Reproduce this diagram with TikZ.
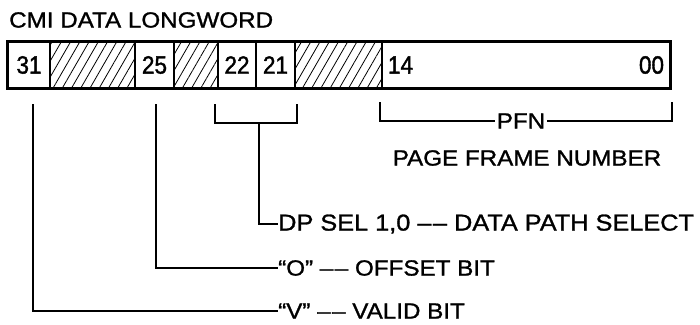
\documentclass[tikz,border=0pt]{standalone}
\usepackage{fontspec}
\setmainfont{Liberation Sans}[FakeStretch=1.1, FakeBold=1.2]
\newfontfamily\digitfont{Liberation Sans}[FakeStretch=0.9, FakeBold=1.5]
\usetikzlibrary{patterns.meta}
\usetikzlibrary{positioning}
\usetikzlibrary{calc}

\newcommand{\ddash}{\textendash\kern1.5pt\textendash}

\tikzset{
  cell/.style={draw, line width=1.6pt, minimum height=45pt, inner sep=0pt,
    font=\digitfont\fontsize{25}{28}\selectfont},
  hatch/.style={cell, pattern={Lines[angle=60,distance=8pt,line width=0.8pt]}},
  lbl/.style={inner sep=0pt, anchor=west, font=\fontsize{22}{24}\selectfont},
  conn/.style={line width=2.2pt},
}

\begin{document}
\begin{tikzpicture}[x=1pt,y=-1pt]
\useasboundingbox (0,0) rectangle (700,324);
\node[lbl, font=\fontsize{22}{24}\selectfont] (title) at (9,20) {CMI DATA LONGWORD};

% register fields
\node[cell, minimum width=42pt] (c31) at (29,65) {31};
\node[hatch, minimum width=85pt] (h1) at (92.5,65) {};
\node[cell, minimum width=39pt] (c25) at (154.5,65) {25};
\node[hatch, minimum width=44pt] (h2) at (196,65) {};
\node[cell, minimum width=38pt] (c22) at (237,65) {22};
\node[cell, minimum width=39pt] (c21) at (275.5,65) {21};
\node[hatch, minimum width=87pt] (h3) at (338.5,65) {};
\node[cell, minimum width=288pt] (pfn) at (526,65) {};
\node[cell, draw=none, anchor=west] (b14) at ($(pfn.west)+(6,0)$) {14};
\node[cell, draw=none, anchor=east] (b00) at ($(pfn.east)+(-6,0)$) {00};
\draw[line width=3.2pt] (c31.north west) rectangle (pfn.south east);

% labels
\node[lbl, anchor=center] (pfnlbl) at (521,121) {PFN};
\node[lbl, anchor=center] (pfnname) at (527,158) {PAGE FRAME NUMBER};
\node[lbl, font=\fontsize{23}{25}\selectfont] (dpsel) at (278,224) {DP SEL 1,0 \ddash\ DATA PATH SELECT};
\node[lbl] (obit) at (278,268) {``O'' \ddash\ OFFSET BIT};
\node[lbl] (vbit) at (278,311) {``V'' \ddash\ VALID BIT};

% connectors
\coordinate (v0) at (33,104);
\coordinate (o0) at (156,104);
\coordinate (dl) at (215,104);
\coordinate (dr) at (297,104);
\coordinate (dm) at (259,123);
\coordinate (pl) at (380,102);
\coordinate (pr) at (672,102);
\draw[conn] (v0) |- (vbit.west);
\draw[conn] (o0) |- (obit.west);
\draw[conn] (dl) |- (dr |- dm) -- (dr);
\draw[conn] (dm) |- (dpsel.west);
\draw[conn] (pl) |- ($(pfnlbl.west)+(-2,0)$);
\draw[conn] (pr) |- ($(pfnlbl.east)+(2,0)$);
\end{tikzpicture}
\end{document}
